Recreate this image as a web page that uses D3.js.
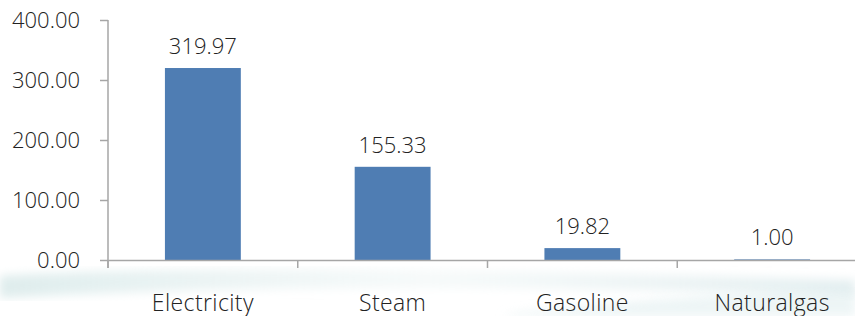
<!DOCTYPE html>
<html>
<head>
<meta charset="utf-8">
<script src="https://cdn.jsdelivr.net/npm/d3@7"></script>
<style>
  body { margin: 0; background: #fff; }
  svg text { font-family: "Open Sans", Lato, sans-serif; font-weight: 300; fill: #222; }
</style>
</head>
<body>
<div id="chart"></div>
<script>
var categories = ["Electricity", "Steam", "Gasoline", "Naturalgas"];
var values = [319.97, 155.33, 19.82, 1.00];
var yTicks = [0, 100, 200, 300, 400];

var width = 855, height = 316;
var margin = {top: 20, left: 108, right: -12, bottom: 56};

var svg = d3.select("#chart")
    .append("svg")
    .attr("width", width)
    .attr("height", height)

// faint decorative swoosh under the axis
var defs = svg.append("defs")
var grad = defs.append("linearGradient").attr("id", "sw").attr("x1", 0).attr("x2", 1)
grad.append("stop").attr("offset", "0%").attr("stop-color", "#d6e8e8").attr("stop-opacity", 0.8)
grad.append("stop").attr("offset", "50%").attr("stop-color", "#eef5f5").attr("stop-opacity", 0.5)
grad.append("stop").attr("offset", "100%").attr("stop-color", "#dceaec").attr("stop-opacity", 0.8)
defs.append("filter").attr("id", "blur").append("feGaussianBlur").attr("stdDeviation", 5)

svg.append("path")
    .attr("d", "M0,276 C200,264 500,270 855,280 L855,296 C600,288 300,282 0,298 Z")
    .attr("fill", "url(#sw)")
    .attr("filter", "url(#blur)")
svg.append("path")
    .attr("d", "M520,312 C650,298 760,292 855,290 L855,316 L500,316 Z")
    .attr("fill", "#e2eff0")
    .attr("opacity", 0.6)
    .attr("filter", "url(#blur)")

var x = d3.scaleBand()
    .domain(categories)
    .range([margin.left, width - margin.right])
    .paddingInner(0)
    .paddingOuter(0)

var y = d3.scaleLinear()
    .domain([0, 400])
    .range([height - margin.bottom, margin.top])

var barW = x.bandwidth() * 0.4;

svg.selectAll(".bar")
    .data(values).enter().append("rect")
    .attr("class", "bar")
    .attr("x", function(d, i){ return x(categories[i]) + (x.bandwidth() - barW) / 2; })
    .attr("y", function(d){ return y(d); })
    .attr("width", barW)
    .attr("height", function(d){ return y(0) - y(d); })
    .attr("fill", "#4f7db3")

svg.selectAll(".vlabel")
    .data(values).enter().append("text")
    .attr("class", "vlabel")
    .attr("x", function(d, i){ return x(categories[i]) + x.bandwidth() / 2; })
    .attr("y", function(d){ return y(d) - 14; })
    .attr("text-anchor", "middle")
    .attr("font-size", 22)
    .text(function(d){ return d.toFixed(2); })

// y axis
var yAxis = svg.append("g")
    .attr("transform", "translate(" + margin.left + ",0)")
    .call(d3.axisLeft(y).tickValues(yTicks).tickFormat(d3.format(".2f")).tickSize(8).tickSizeOuter(0).tickPadding(20))
yAxis.selectAll("text").attr("font-size", 22).attr("fill", "#222").attr("font-family", null)

// x axis
var xAxis = svg.append("g")
    .attr("transform", "translate(0," + y(0) + ")")
    .call(d3.axisBottom(x).tickSize(0).tickSizeOuter(0).tickPadding(35))
xAxis.selectAll("text").attr("font-size", 23).attr("letter-spacing", 0.4).attr("fill", "#222").attr("font-family", null)

// category separator ticks
xAxis.selectAll(".sep")
    .data(categories).enter().append("line")
    .attr("class", "sep")
    .attr("x1", function(d){ return x(d); })
    .attr("x2", function(d){ return x(d); })
    .attr("y1", 0).attr("y2", 8)

svg.selectAll(".domain, .tick line, .sep")
    .attr("stroke", "#a6a6a6")
    .attr("stroke-width", 1.5)
yAxis.select(".domain").attr("d", "M0," + y(400) + "V" + (y(0) + 8))
</script>
</body>
</html>
